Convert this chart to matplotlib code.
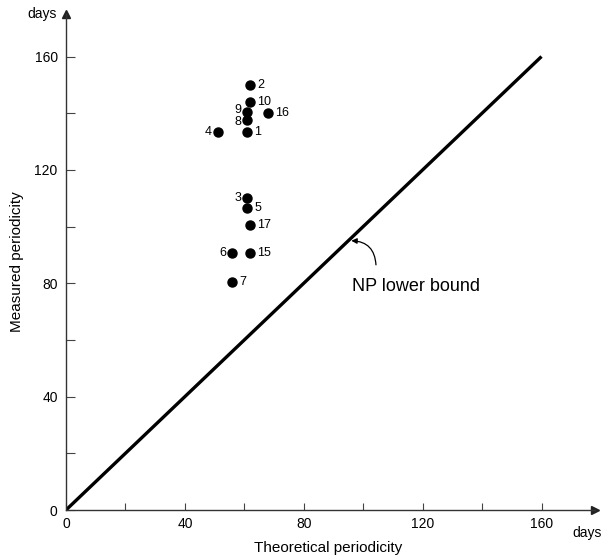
import matplotlib.pyplot as plt
import numpy as np

plt.rcParams['font.family'] = ['Liberation Sans', 'DejaVu Sans']

# measured vs theoretical periodicity (days) per instance
ids = ["1", "2", "3", "4", "5", "6", "7", "8", "9", "10", "15", "16", "17"]
theoretical = [61, 62, 61, 51, 61, 56, 56, 61, 61, 62, 62, 68, 62]
measured = [133.5, 150, 110, 133.5, 106.5, 90.8, 80.6, 137.5, 140.5, 144, 90.5, 140, 100.4]
left_labels = {"3", "4", "6", "8", "9"}
nudge = {"9": 1.5, "8": -1.0}

bound = [0, 160]

fig = plt.figure(figsize=(6.04, 5.59), dpi=100)
ax = fig.add_axes([66 / 604, 49 / 559, 529 / 604, 496 / 559])
ax.set_xlim(0, 178)
ax.set_ylim(0, 175)

ax.plot(bound, bound, color="black", lw=2.4, solid_capstyle="butt")
ax.plot(theoretical, measured, "o", color="black", ms=6.5)

for lab, x, y in zip(ids, theoretical, measured):
    dy = nudge.get(lab, 0)
    if lab in left_labels:
        ax.annotate(lab, (x, y), xytext=(-4.5, dy), textcoords="offset points",
                    ha="right", va="center", fontsize=9)
    else:
        ax.annotate(lab, (x, y), xytext=(5, dy), textcoords="offset points",
                    ha="left", va="center", fontsize=9)

ax.text(117.8, 78.8, "NP lower bound", fontsize=13, ha="center", va="center")
ax.annotate("", xy=(96, 95), xytext=(104.3, 86.5),
            arrowprops=dict(arrowstyle="-|>", color="black", lw=0.9,
                            mutation_scale=8, shrinkA=0, shrinkB=0,
                            connectionstyle="arc3,rad=0.45"))

for side in ["top", "right"]:
    ax.spines[side].set_visible(False)
for side in ["left", "bottom"]:
    ax.spines[side].set_color("#333333")
    ax.spines[side].set_linewidth(1.0)

ax.plot(1, 0, ">", color="#222222", ms=6, transform=ax.transAxes, clip_on=False)
ax.plot(0, 1, "^", color="#222222", ms=6, transform=ax.transAxes, clip_on=False)

ax.set_xticks([0, 40, 80, 120, 160])
ax.set_yticks([0, 40, 80, 120, 160])
ax.set_xticks([20, 60, 100, 140], minor=True)
ax.set_yticks([20, 60, 100, 140], minor=True)
ax.tick_params(which="both", direction="in", color="#444444", width=0.8, labelsize=10)
ax.tick_params(axis="x", which="both", length=5, pad=5)
ax.tick_params(axis="y", which="both", length=6.5, pad=6)

ax.text(0.958, -0.033, "days", transform=ax.transAxes, ha="left", va="top", fontsize=10)
ax.text(-0.017, 1.0, "days", transform=ax.transAxes, ha="right", va="center", fontsize=10)

ax.set_xlabel("Theoretical periodicity", fontsize=11)
ax.set_ylabel("Measured periodicity", fontsize=11)
ax.xaxis.set_label_coords(0.495, -0.063)
ax.yaxis.set_label_coords(-0.079, 0.5)

fig.savefig("out.png", dpi=100)
